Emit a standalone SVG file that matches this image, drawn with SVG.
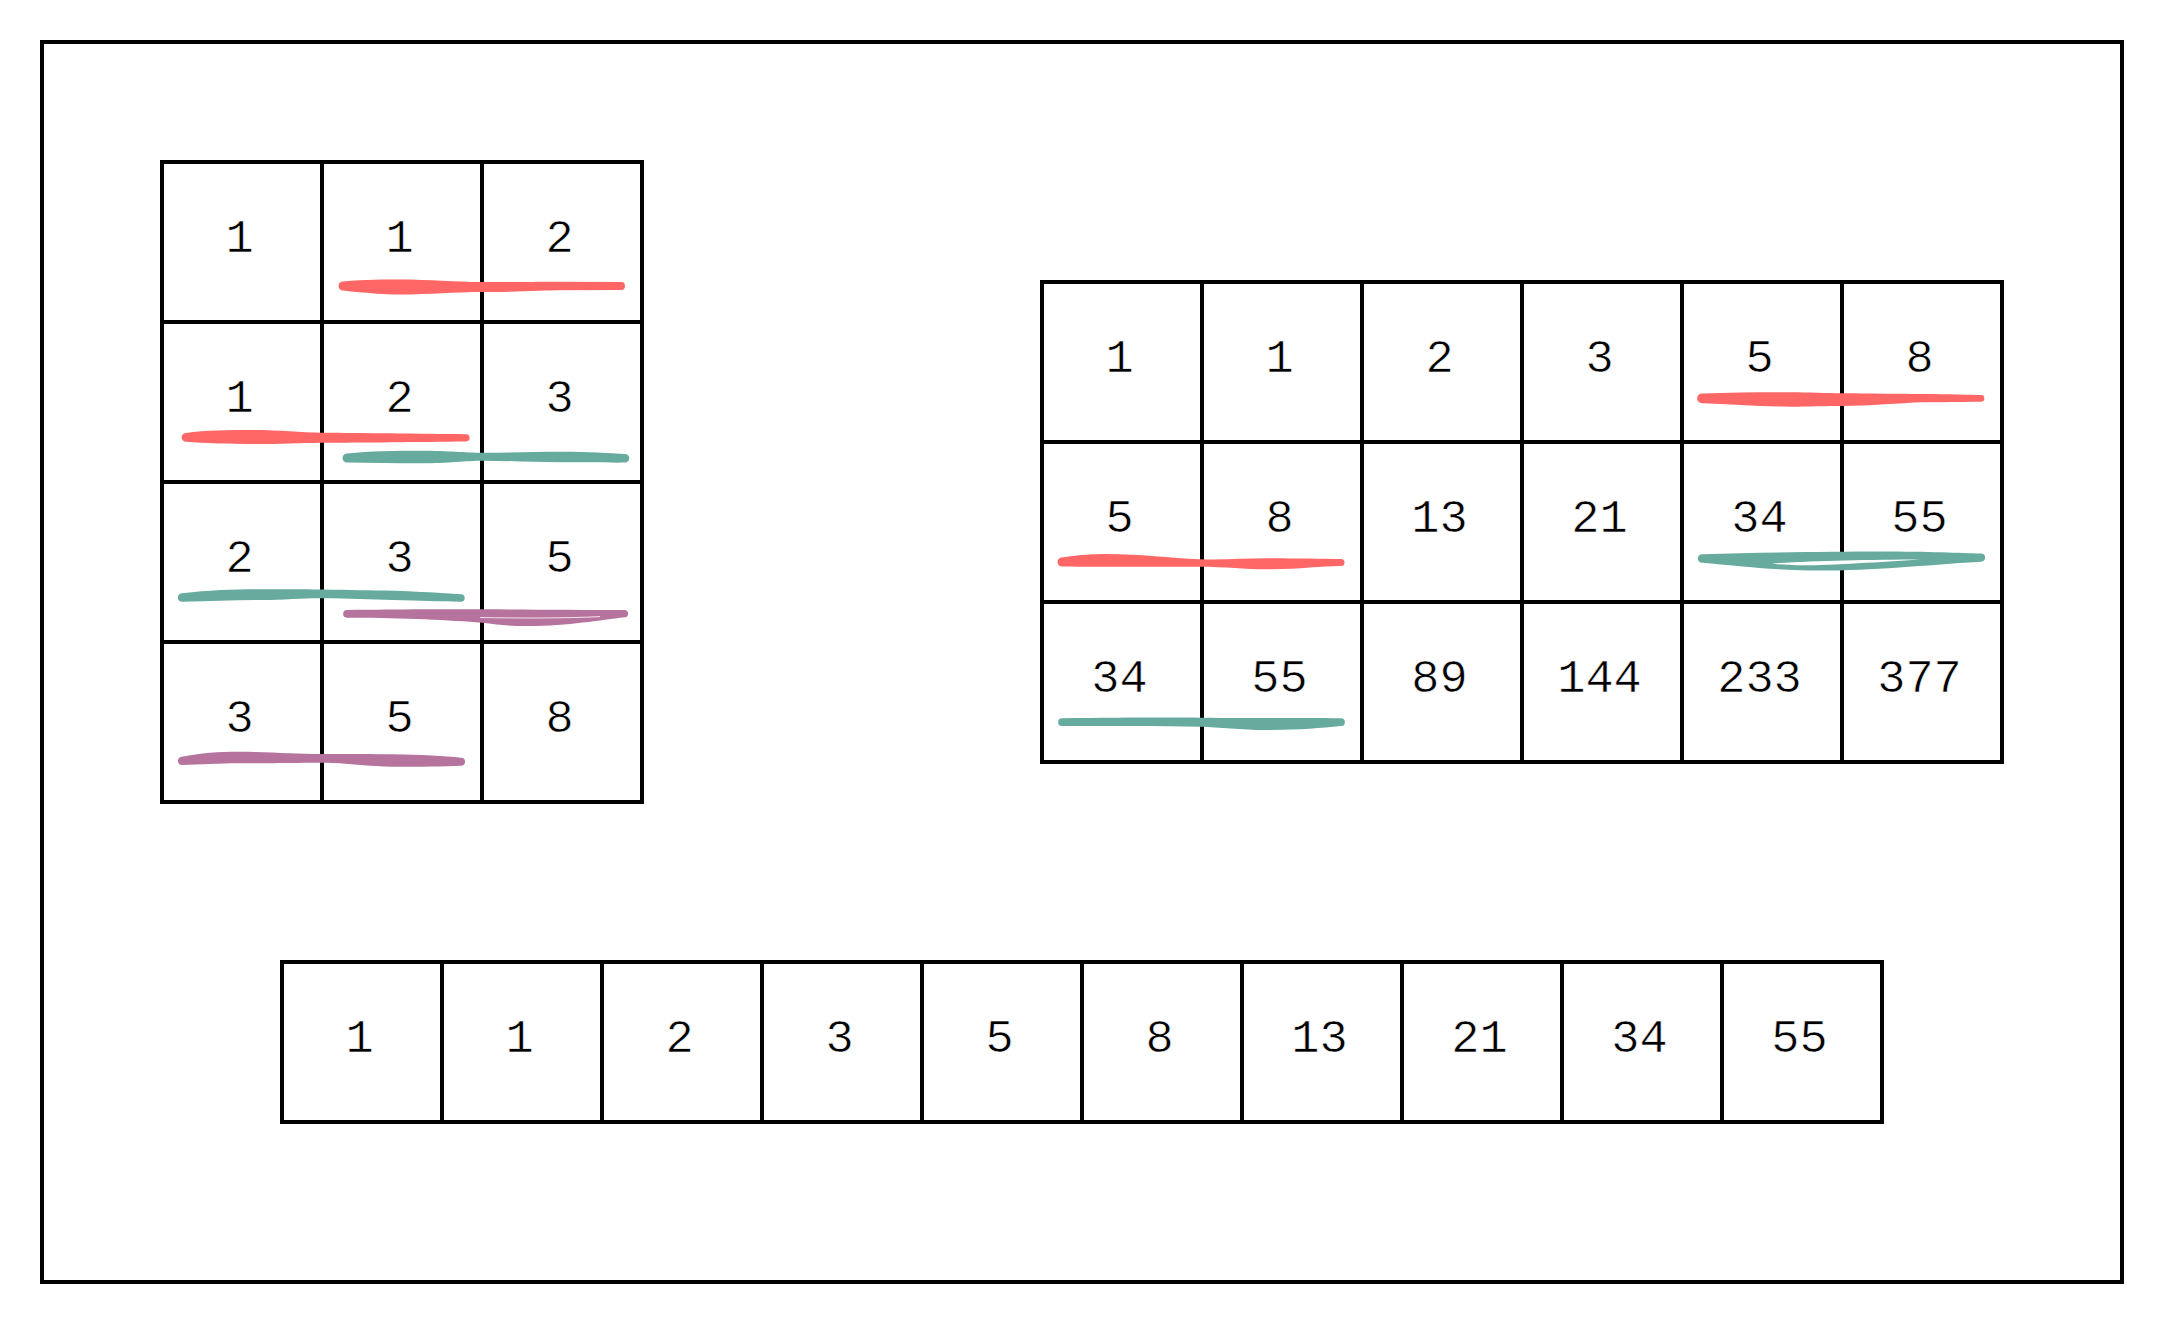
<svg xmlns="http://www.w3.org/2000/svg" width="2164" height="1324" viewBox="0 0 2164 1324">
<style>
.cell rect{fill:#fff;stroke:#000;stroke-width:4}
.cell text{font-family:"Liberation Mono","Courier New",monospace;font-size:47px;fill:#000;text-anchor:middle;stroke:#fff;stroke-width:0.6px;transform:translate(-2.5px,0)}
.red{fill:#FF6666}
.teal{fill:#67AB9F}
.purple{fill:#B5739D}
</style>
<rect x="0" y="0" width="2164" height="1324" fill="#fff"/>
<g id="frame"><rect x="42" y="42" width="2080" height="1240" fill="none" stroke="#000" stroke-width="4"/></g>

<g id="table-left">
<g id="L00" class="cell"><rect x="162" y="162" width="160" height="160"/><text x="242" y="252">1</text></g>
<g id="L01" class="cell"><rect x="322" y="162" width="160" height="160"/><text x="402" y="252">1</text></g>
<g id="L02" class="cell"><rect x="482" y="162" width="160" height="160"/><text x="562" y="252">2</text></g>
<g id="L10" class="cell"><rect x="162" y="322" width="160" height="160"/><text x="242" y="412">1</text></g>
<g id="L11" class="cell"><rect x="322" y="322" width="160" height="160"/><text x="402" y="412">2</text></g>
<g id="L12" class="cell"><rect x="482" y="322" width="160" height="160"/><text x="562" y="412">3</text></g>
<g id="L20" class="cell"><rect x="162" y="482" width="160" height="160"/><text x="242" y="572">2</text></g>
<g id="L21" class="cell"><rect x="322" y="482" width="160" height="160"/><text x="402" y="572">3</text></g>
<g id="L22" class="cell"><rect x="482" y="482" width="160" height="160"/><text x="562" y="572">5</text></g>
<g id="L30" class="cell"><rect x="162" y="642" width="160" height="160"/><text x="242" y="732">3</text></g>
<g id="L31" class="cell"><rect x="322" y="642" width="160" height="160"/><text x="402" y="732">5</text></g>
<g id="L32" class="cell"><rect x="482" y="642" width="160" height="160"/><text x="562" y="732">8</text></g>
</g>

<g id="table-right">
<g id="R00" class="cell"><rect x="1042" y="282" width="160" height="160"/><text x="1122" y="372">1</text></g>
<g id="R01" class="cell"><rect x="1202" y="282" width="160" height="160"/><text x="1282" y="372">1</text></g>
<g id="R02" class="cell"><rect x="1362" y="282" width="160" height="160"/><text x="1442" y="372">2</text></g>
<g id="R03" class="cell"><rect x="1522" y="282" width="160" height="160"/><text x="1602" y="372">3</text></g>
<g id="R04" class="cell"><rect x="1682" y="282" width="160" height="160"/><text x="1762" y="372">5</text></g>
<g id="R05" class="cell"><rect x="1842" y="282" width="160" height="160"/><text x="1922" y="372">8</text></g>
<g id="R10" class="cell"><rect x="1042" y="442" width="160" height="160"/><text x="1122" y="532">5</text></g>
<g id="R11" class="cell"><rect x="1202" y="442" width="160" height="160"/><text x="1282" y="532">8</text></g>
<g id="R12" class="cell"><rect x="1362" y="442" width="160" height="160"/><text x="1442" y="532">13</text></g>
<g id="R13" class="cell"><rect x="1522" y="442" width="160" height="160"/><text x="1602" y="532">21</text></g>
<g id="R14" class="cell"><rect x="1682" y="442" width="160" height="160"/><text x="1762" y="532">34</text></g>
<g id="R15" class="cell"><rect x="1842" y="442" width="160" height="160"/><text x="1922" y="532">55</text></g>
<g id="R20" class="cell"><rect x="1042" y="602" width="160" height="160"/><text x="1122" y="692">34</text></g>
<g id="R21" class="cell"><rect x="1202" y="602" width="160" height="160"/><text x="1282" y="692">55</text></g>
<g id="R22" class="cell"><rect x="1362" y="602" width="160" height="160"/><text x="1442" y="692">89</text></g>
<g id="R23" class="cell"><rect x="1522" y="602" width="160" height="160"/><text x="1602" y="692">144</text></g>
<g id="R24" class="cell"><rect x="1682" y="602" width="160" height="160"/><text x="1762" y="692">233</text></g>
<g id="R25" class="cell"><rect x="1842" y="602" width="160" height="160"/><text x="1922" y="692">377</text></g>
</g>

<g id="row-bottom">
<g id="B0" class="cell"><rect x="282" y="962" width="160" height="160"/><text x="362" y="1052">1</text></g>
<g id="B1" class="cell"><rect x="442" y="962" width="160" height="160"/><text x="522" y="1052">1</text></g>
<g id="B2" class="cell"><rect x="602" y="962" width="160" height="160"/><text x="682" y="1052">2</text></g>
<g id="B3" class="cell"><rect x="762" y="962" width="160" height="160"/><text x="842" y="1052">3</text></g>
<g id="B4" class="cell"><rect x="922" y="962" width="160" height="160"/><text x="1002" y="1052">5</text></g>
<g id="B5" class="cell"><rect x="1082" y="962" width="160" height="160"/><text x="1162" y="1052">8</text></g>
<g id="B6" class="cell"><rect x="1242" y="962" width="160" height="160"/><text x="1322" y="1052">13</text></g>
<g id="B7" class="cell"><rect x="1402" y="962" width="160" height="160"/><text x="1482" y="1052">21</text></g>
<g id="B8" class="cell"><rect x="1562" y="962" width="160" height="160"/><text x="1642" y="1052">34</text></g>
<g id="B9" class="cell"><rect x="1722" y="962" width="160" height="160"/><text x="1802" y="1052">55</text></g>
</g>

<g id="highlights">
<path class="red" d="M343,281.5 C365,279.5 385,279.5 400,279.5 C430,279.5 455,282 482,282 C520,282 545,281.7 560,281.7 L621,282 A4,4 0 0 1 621,290 L560,290.3 C545,290.3 520,292 482,292 C455,292 430,294.5 400,294.5 C385,294.5 365,293 343,290.5 A4.5,4.5 0 0 1 343,281.5 Z"/>
<path class="red" d="M186,433 C205,430 230,430 253,430 C280,430 300,432.5 322,432.7 C360,433 420,433.5 466,434.2 A3.6,3.6 0 0 1 466,441.4 C420,442 360,442.5 322,442.7 C300,443 280,444 253,444 C230,444 205,443 186,441.7 A4.35,4.35 0 0 1 186,433 Z"/>
<path class="teal" d="M347,453.5 C370,451 395,450.7 420,450.7 C450,450.7 465,452.7 482,452.7 C510,452.7 535,451.7 560,451.7 C590,451.7 610,453 625,454 A4.3,4.3 0 0 1 625,462.6 C610,462.8 590,462.3 560,462.3 C535,462.3 510,460.7 482,460.7 C465,460.7 450,463.3 420,463.3 C395,463.3 370,463 347,462.5 A4.5,4.5 0 0 1 347,453.5 Z"/>
<path class="teal" d="M182,593.3 C210,590 235,589.3 260,589.3 C285,589.3 300,589.3 322,589.5 C350,589.8 370,590.5 393,590.7 C420,591.5 440,593 461,594.3 A3.7,3.7 0 0 1 461,601.7 C440,601.5 420,600.5 393,600 C370,599.5 350,598.5 322,598.3 C300,598.3 285,600 260,600 C235,600 210,601 182,601.7 A4.2,4.2 0 0 1 182,593.3 Z"/>
<path class="purple" d="M347,610 C400,609.3 450,609.3 482,609.3 C530,609.5 580,610 625,610 A3.7,3.7 0 0 1 625,617.3 C600,620 570,626 527,626 C500,626 490,623 482,622.7 C450,620 400,617.5 347,617.7 A3.85,3.85 0 0 1 347,610 Z"/>
<path d="M480,617.5 C520,618.3 565,618.3 600,616.6" fill="none" stroke="#fff" stroke-width="1" opacity="0.8"/>
<path class="purple" d="M182,756.7 C200,753 220,751.7 237,751.7 C270,751.7 295,754 322,754 C350,754 375,754 393,754.3 C420,754.8 445,756 461,757.7 A4,4 0 0 1 461,765.7 C445,766.5 420,766.7 393,766.7 C370,766.5 345,762.7 322,762.7 C295,762.7 270,763.3 237,763.3 C220,763.3 200,764.5 182,765 A4.15,4.15 0 0 1 182,756.7 Z"/>
<path class="red" d="M1702,393.5 C1730,392.5 1760,392.3 1790,392.3 C1810,392.3 1825,393.3 1842,393.3 C1870,393.5 1900,394 1923,394 C1950,394.3 1970,394.7 1981,395 A3.35,3.35 0 0 1 1981,401.7 C1970,401.8 1950,402 1923,402.3 C1900,403 1870,406 1842,406 C1825,406 1810,406.7 1790,406.7 C1760,406.7 1730,404 1702,403.3 A4.9,4.9 0 0 1 1702,393.5 Z"/>
<path class="red" d="M1062,557.5 C1080,554.5 1095,554 1107,554 C1140,554 1170,558 1200,559.3 C1225,560 1245,558.3 1267,558.3 C1300,558.3 1320,559 1341,559 A3.5,3.5 0 0 1 1341,566 C1320,566 1300,569.3 1267,569.3 C1245,569.3 1225,566.7 1200,566.7 C1170,566.7 1140,566.7 1107,566.7 C1095,566.7 1080,566.8 1062,566.5 A4.5,4.5 0 0 1 1062,557.5 Z"/>
<path class="teal" d="M1702,554.3 C1760,552.5 1830,551.5 1880,551.5 C1930,551.5 1960,553 1981,553.5 A4.1,4.1 0 0 1 1981,561.7 C1940,564 1880,570 1830,570.5 C1780,571 1740,566 1702,562.7 A4.2,4.2 0 0 1 1702,554.3 Z"/>
<path d="M1772,563.5 C1810,561 1870,559.5 1920,559.5 C1880,562 1830,565.5 1800,565.3 C1785,565 1778,564.5 1772,563.5 Z" fill="#fff"/>
<path class="teal" d="M1062,718.3 C1120,717.5 1170,717.5 1200,717.7 C1240,718 1270,718 1300,718 C1320,718 1335,718.2 1341,718.3 A3.85,3.85 0 0 1 1341,726 C1320,728 1300,730 1267,730 C1240,730 1220,727 1200,726.7 C1160,726 1110,726 1062,726 A3.85,3.85 0 0 1 1062,718.3 Z"/>
</g>
</svg>
